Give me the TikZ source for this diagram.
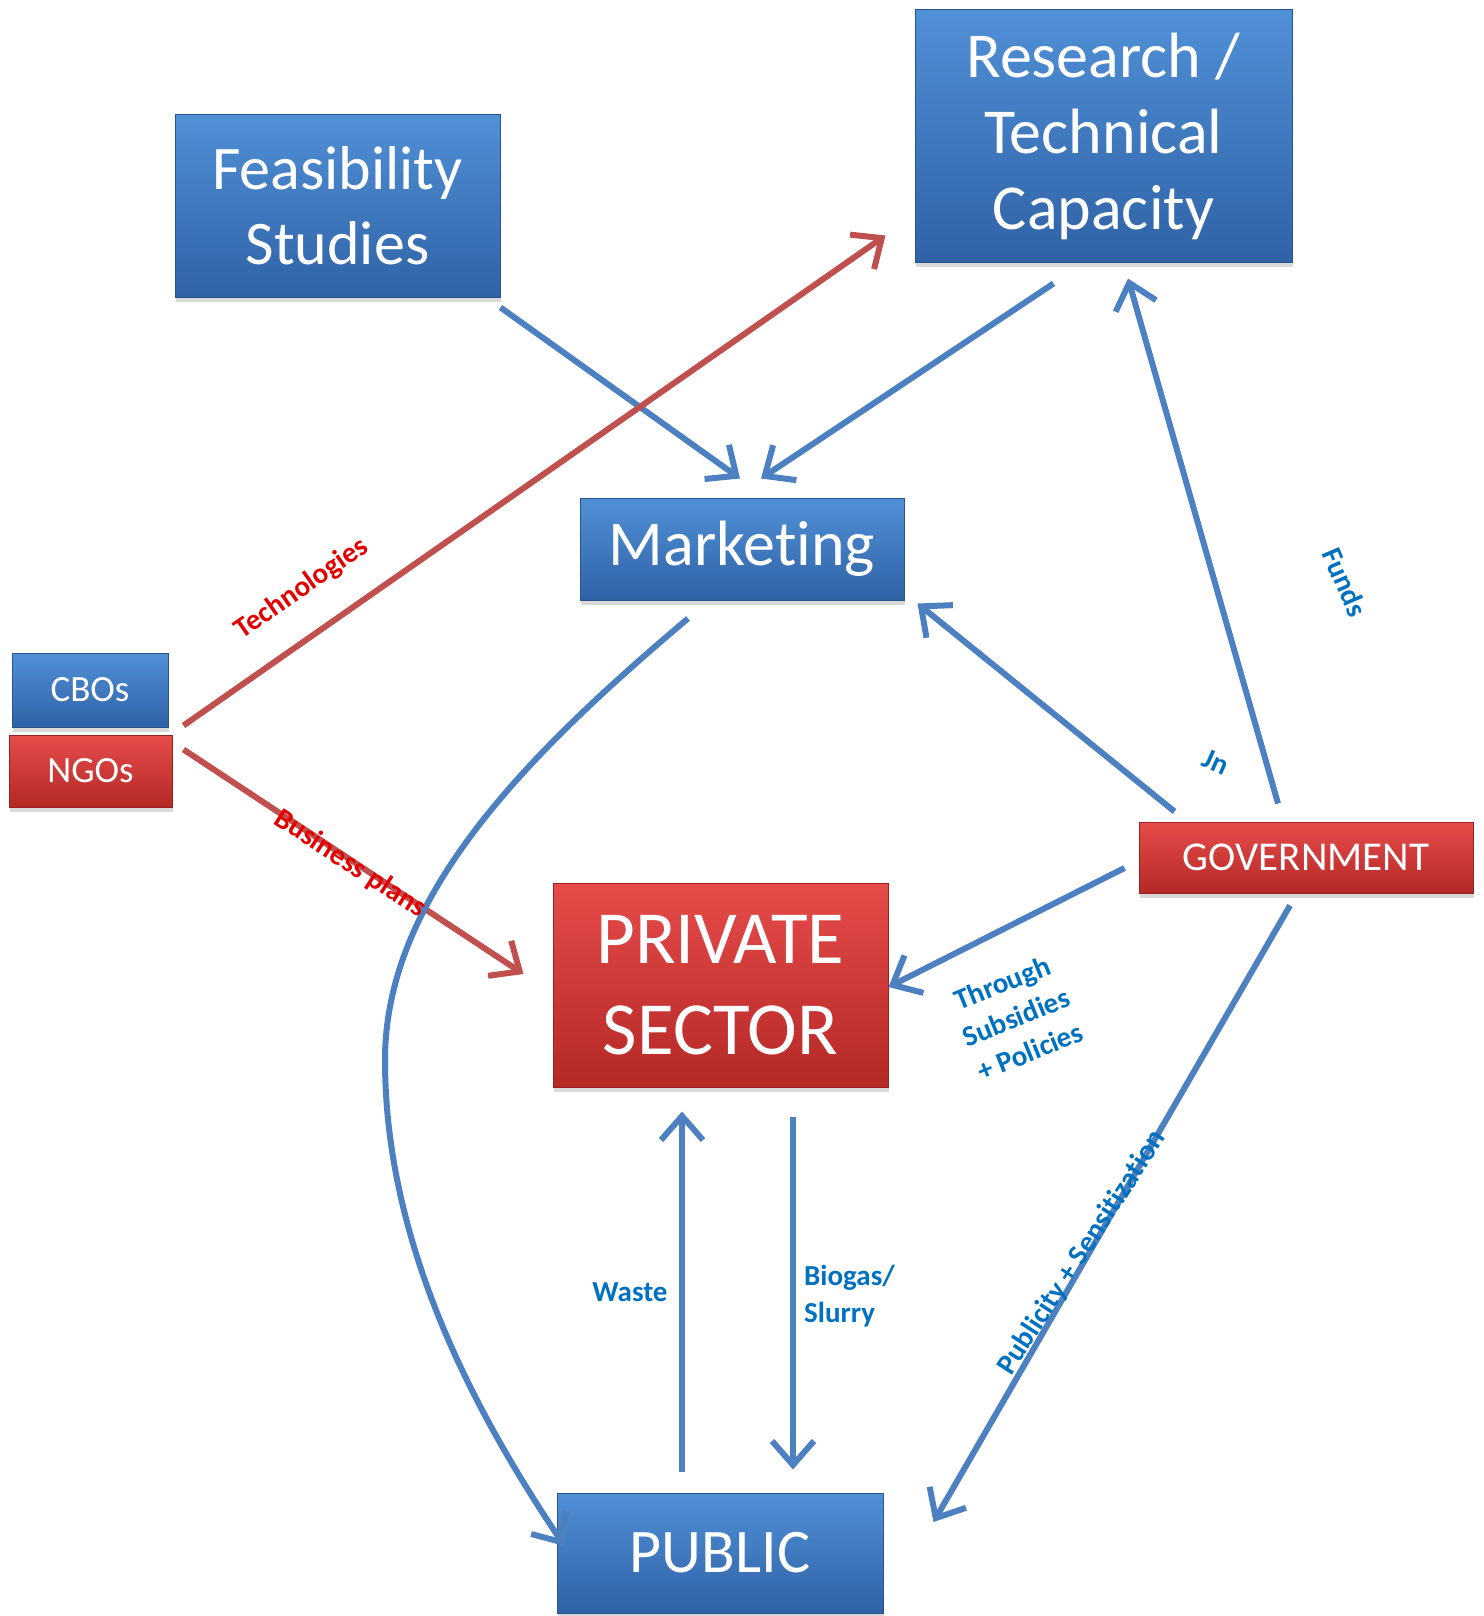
\documentclass[tikz,border=0pt]{standalone}
\usepackage{fontspec}
\setmainfont{Carlito}[Ligatures=CommonOff]
\usetikzlibrary{arrows.meta,shadows}
\definecolor{bluetop}{RGB}{80,144,215}
\definecolor{bluebot}{RGB}{48,98,166}
\definecolor{redtop}{RGB}{230,76,74}
\definecolor{redbot}{RGB}{180,40,38}
\definecolor{arrblue}{RGB}{76,128,192}
\definecolor{arrred}{RGB}{192,80,77}
\definecolor{txtblue}{RGB}{0,112,192}
\definecolor{txtred}{RGB}{226,0,0}
\def\fs#1#2{\fontsize{#1}{#2}\selectfont}

\tikzset{
  bluebox/.style={draw=bluebot!85!black, line width=1pt, top color=bluetop, bottom color=bluebot,
    text=white, align=center, inner sep=0pt,
    drop shadow={opacity=0.3, shadow xshift=1pt, shadow yshift=-5pt}},
  redbox/.style={bluebox, draw=redbot!85!black, top color=redtop, bottom color=redbot},
  bluearr/.style={draw=arrblue, line width=6pt, -{Straight Barb[length=24pt,width=42pt]}},
  redarr/.style={bluearr, draw=arrred},
  bluelbl/.style={text=txtblue, font=\bfseries\fs{29}{37}, inner sep=0pt, align=center},
  redlbl/.style={bluelbl, text=txtred}
}

\begin{document}
\begin{tikzpicture}[x=1pt,y=-1pt]
		%%%%% START %%%%%
		\useasboundingbox (0,0) rectangle (1483,1616);
		
		\node[bluebox, minimum width=325pt, minimum height=182pt, font=\fs{62}{75}] (feas) at (337.5,206) {Feasibility\\Studies};
		\node[bluebox, minimum width=377pt, minimum height=252pt, font=\fs{64}{76}] (research) at (1103.5,136) {Research /\\Technical\\Capacity};
		\node[bluebox, minimum width=324pt, minimum height=102pt, font=\fs{64}{76}] (market) at (742,549) {Marketing};
		\node[bluebox, minimum width=156pt, minimum height=74pt, font=\fs{37}{44}] (cbos) at (90,690) {CBOs};
		\node[redbox, minimum width=163pt, minimum height=72pt, font=\fs{37}{44}] (ngos) at (90.5,771) {NGOs};
		\node[redbox, minimum width=334pt, minimum height=71pt, font=\fs{41}{48}] (gov) at (1306,857.5) {GOVERNMENT};
		\node[redbox, minimum width=335pt, minimum height=204pt, font=\fs{75}{91}] (private) at (720.5,985) {PRIVATE\\SECTOR};
		\node[bluebox, minimum width=326pt, minimum height=120pt, font=\fs{62}{75}] (public) at (720,1553) {PUBLIC};
		
		\draw[bluearr] ([shift={(0,10)}]feas.south east) -- ([shift={(-2,-19)}]market.north);
		\draw[bluearr] ([shift={(-50,21)}]research.south) -- ([shift={(19,-19)}]market.north);
		\draw[redarr] ([shift={(15,-2)}]cbos.south east) -- ([shift={(-29,-27)}]research.south west);
		\draw[redarr] ([shift={(11,15)}]ngos.north east) -- ([shift={(-29,-11)}]private.west);
		\draw[bluearr] ([shift={(-54,18)}]market.south) .. controls (520,760) and (385,900) .. (385,1060)
			.. controls (385,1250) and (480,1420) .. ([shift={(8,-7)}]public.west);
		\draw[bluearr] ([shift={(36,-10)}]gov.north west) -- ([shift={(13,3)}]market.south east);
		\draw[bluearr] ([shift={(-28,-18)}]gov.north) -- ([shift={(24.5,16)}]research.south);
		\draw[bluearr] ([shift={(-14,10.5)}]gov.west) -- ([shift={(0,2)}]private.east);
		\draw[bluearr] ([shift={(-16,12)}]gov.south) -- ([shift={(50,-31)}]public.east);
		\draw[bluearr] ([shift={(-38,-21)}]public.north) -- ([shift={(-38.5,24)}]private.south);
		\draw[bluearr] ([shift={(72.5,29)}]private.south) -- ([shift={(73,-23)}]public.north);
		
		\node[redlbl, rotate=35] (techlbl) at (302,589) {Technologies};
		\node[redlbl, rotate=-33] (bizlbl) at (350,864) {Business plans};
		\node[bluelbl, rotate=-67] (fundslbl) at (1345,582) {Funds};
		\node[bluelbl, rotate=-24] (jnlbl) at (1216,762) {Jn};
		\node[bluelbl, rotate=22] (thrulbl) at (1016,1017) {Through\\Subsidies\\+ Policies};
		\node[bluelbl, rotate=57] (publbl) at (1082,1253) {Publicity + Sensitization};
		\node[bluelbl] (wastelbl) at (630,1292) {Waste};
		\node[bluelbl, anchor=west, align=left] (biolbl) at (804,1296) {Biogas/\\Slurry};
		
		%%%%% END %%%%%
	\end{tikzpicture}
\end{document}
